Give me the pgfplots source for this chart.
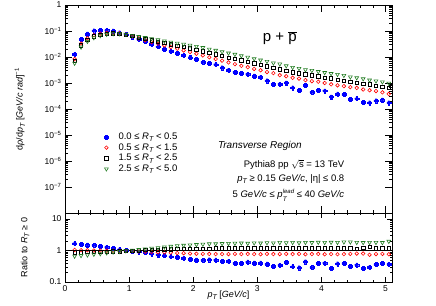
\documentclass[border=0pt]{standalone}
\usepackage{fontspec}
\setmainfont{Liberation Sans}
\usepackage{pgfplots}
\pgfplotsset{compat=1.18}
\usepackage{pgfplotstable}

\definecolor{rblue}{RGB}{0,0,255}
\definecolor{rred}{RGB}{255,0,0}
\definecolor{rgreen}{RGB}{35,125,35}

\pgfdeclareplotmark{fullcross}{%
  \pgfpathmoveto{\pgfqpoint{-0.42\pgfplotmarksize}{\pgfplotmarksize}}%
  \pgfpathlineto{\pgfqpoint{0.42\pgfplotmarksize}{\pgfplotmarksize}}%
  \pgfpathlineto{\pgfqpoint{0.42\pgfplotmarksize}{0.42\pgfplotmarksize}}%
  \pgfpathlineto{\pgfqpoint{\pgfplotmarksize}{0.42\pgfplotmarksize}}%
  \pgfpathlineto{\pgfqpoint{\pgfplotmarksize}{-0.42\pgfplotmarksize}}%
  \pgfpathlineto{\pgfqpoint{0.42\pgfplotmarksize}{-0.42\pgfplotmarksize}}%
  \pgfpathlineto{\pgfqpoint{0.42\pgfplotmarksize}{-\pgfplotmarksize}}%
  \pgfpathlineto{\pgfqpoint{-0.42\pgfplotmarksize}{-\pgfplotmarksize}}%
  \pgfpathlineto{\pgfqpoint{-0.42\pgfplotmarksize}{-0.42\pgfplotmarksize}}%
  \pgfpathlineto{\pgfqpoint{-\pgfplotmarksize}{-0.42\pgfplotmarksize}}%
  \pgfpathlineto{\pgfqpoint{-\pgfplotmarksize}{0.42\pgfplotmarksize}}%
  \pgfpathlineto{\pgfqpoint{-0.42\pgfplotmarksize}{0.42\pgfplotmarksize}}%
  \pgfpathclose
  \pgfusepathqfillstroke}

\newcommand{\RT}{\textit{R}\raisebox{-0.45ex}{\scriptsize\itshape T}}
\newcommand{\pT}{\textit{p}\raisebox{-0.5ex}{\scriptsize\itshape T}}

\pgfplotstableread{
pt b r k g
0.15 0.0130 0.00832 0.00708 0.00575
0.25 0.049 0.0331 0.0282 0.0240
0.35 0.0767 0.0525 0.0457 0.0398
0.45 0.1023 0.0692 0.0617 0.0550
0.55 0.106 0.0794 0.0724 0.0661
0.65 0.106 0.0851 0.0776 0.0741
0.75 0.100 0.0841 0.0804 0.0785
0.85 0.0861 0.0804 0.0785 0.0785
0.95 0.0724 0.0724 0.0724 0.0741
1.05 0.0603 0.0617 0.0646 0.0676
1.15 0.0484 0.0519 0.0569 0.0610
1.25 0.0394 0.0442 0.0507 0.0556
1.35 0.0313 0.0376 0.0442 0.0507
1.45 0.0251 0.0324 0.0394 0.0457
1.55 0.0204 0.0279 0.0351 0.0412
1.65 0.0166 0.0240 0.0309 0.0372
1.75 0.0138 0.0209 0.0275 0.0339
1.85 0.0115 0.0178 0.0245 0.0309
1.95 0.00955 0.0155 0.0219 0.0282
2.05 0.00832 0.0133 0.0188 0.0254
2.15 0.00631 0.0115 0.0166 0.0229
2.25 0.00575 0.00977 0.0145 0.0200
2.35 0.00513 0.00841 0.0126 0.0180
2.45 0.00389 0.00724 0.0110 0.0158
2.55 0.00316 0.00617 0.00955 0.0141
2.65 0.00263 0.00531 0.00832 0.0126
2.75 0.00234 0.00457 0.00741 0.0111
2.85 0.00219 0.00407 0.00646 0.00977
2.95 0.00186 0.00347 0.00575 0.00851
3.05 0.00166 0.00309 0.00501 0.00759
3.15 0.00123 0.00263 0.00437 0.00676
3.25 0.000912 0.00240 0.00389 0.00589
3.35 0.000912 0.00200 0.00339 0.00537
3.45 0.00102 0.00182 0.00295 0.00457
3.55 0.000661 0.00158 0.00257 0.00398
3.65 0.000537 0.00148 0.00240 0.00363
3.75 0.000813 0.00129 0.00214 0.00324
3.85 0.000447 0.00117 0.00195 0.00302
3.95 0.000537 0.00112 0.00178 0.00275
4.05 0.000501 0.00100 0.00162 0.00251
4.15 0.000295 0.000891 0.00151 0.00229
4.25 0.000380 0.000813 0.00135 0.00214
4.35 0.000363 0.000759 0.00123 0.00195
4.45 0.000240 0.000692 0.00112 0.00170
4.55 0.000251 0.000646 0.00102 0.00158
4.65 0.000182 0.000562 0.000912 0.00145
4.75 0.000174 0.000525 0.000891 0.00129
4.85 0.000209 0.000490 0.000776 0.00120
4.95 0.000224 0.000437 0.000708 0.00110
5.05 0.000174 0.000380 0.000661 0.000977
}\upperdata

\pgfplotstableread{
pt b r k g
0.15 1.66 1.04 0.87 0.66
0.25 1.585 1.02 0.88 0.69
0.35 1.51 1.02 0.89 0.72
0.45 1.48 1.0 0.90 0.76
0.55 1.37 1.0 0.91 0.79
0.65 1.27 0.99 0.92 0.84
0.75 1.18 0.99 0.93 0.89
0.85 1.07 0.97 0.95 0.93
0.95 1.01 0.96 0.97 0.98
1.05 0.96 0.95 0.99 1.02
1.15 0.91 0.93 1.01 1.07
1.25 0.86 0.92 1.03 1.12
1.35 0.79 0.90 1.05 1.18
1.45 0.73 0.88 1.07 1.23
1.55 0.69 0.87 1.08 1.29
1.65 0.64 0.85 1.10 1.35
1.75 0.61 0.83 1.11 1.41
1.85 0.57 0.82 1.12 1.46
1.95 0.53 0.80 1.13 1.50
2.05 0.50 0.79 1.14 1.54
2.15 0.49 0.78 1.15 1.58
2.25 0.51 0.78 1.15 1.62
2.35 0.50 0.77 1.16 1.63
2.45 0.46 0.77 1.16 1.66
2.55 0.45 0.77 1.17 1.67
2.65 0.393 0.78 1.17 1.70
2.75 0.393 0.77 1.16 1.72
2.85 0.434 0.78 1.18 1.69
2.95 0.402 0.77 1.17 1.74
3.05 0.402 0.76 1.17 1.72
3.15 0.375 0.78 1.16 1.76
3.25 0.316 0.77 1.18 1.74
3.35 0.342 0.77 1.17 1.79
3.45 0.421 0.78 1.17 1.76
3.55 0.308 0.77 1.16 1.80
3.65 0.284 0.78 1.17 1.75
3.75 0.44 0.76 1.18 1.80
3.85 0.29 0.77 1.17 1.78
3.95 0.39 0.78 1.16 1.82
4.05 0.40 0.76 1.17 1.80
4.15 0.27 0.77 1.18 1.82
4.25 0.38 0.76 1.17 1.80
4.35 0.39 0.77 1.16 1.86
4.45 0.32 0.78 1.17 1.86
4.55 0.35 0.80 1.15 1.80
4.65 0.27 0.80 1.20 1.78
4.75 0.29 0.73 1.30 1.80
4.85 0.36 0.77 1.16 1.80
4.95 0.40 0.78 1.17 1.78
5.05 0.37 0.76 1.18 1.95
}\ratiodata

\pgfplotsset{
  rootaxis/.style={
    scale only axis, width=327pt, xmin=0, xmax=5.1,
    axis line style={line width=0.7pt},
    every tick/.style={black, line width=0.5pt},
    major tick length=7pt, minor tick length=3.5pt,
    tick label style={font=\fontsize{8.5}{10}\selectfont},
    xtick={0,1,2,3,4,5}, minor x tick num=4,
    label style={font=\fontsize{9}{11}\selectfont},
  },
  sblue/.style={only marks, mark=fullcross, mark size=2.0pt, color=rblue, mark options={fill=rblue, line width=0.3pt}},
  sred/.style={only marks, mark=o, mark size=1.8pt, color=rred, mark options={line width=0.6pt}},
  sblack/.style={only marks, mark=square, mark size=1.7pt, color=black, mark options={line width=0.6pt}},
  sgreen/.style={only marks, mark=triangle, mark size=2.2pt, color=rgreen, mark options={rotate=180, line width=0.6pt}},
}

\begin{document}
\begin{tikzpicture}
\useasboundingbox (-65pt,-92pt) rectangle (371pt,213pt);
\begin{axis}[rootaxis, at={(0pt,0pt)}, anchor=south west, height=208pt,
  ymode=log, ymin=1e-8, ymax=1,
  ytick={1e-7,1e-6,1e-5,1e-4,1e-3,1e-2,1e-1,1},
  yticklabels={10\textsuperscript{−7},10\textsuperscript{−6},10\textsuperscript{−5},10\textsuperscript{−4},10\textsuperscript{−3},10\textsuperscript{−2},10\textsuperscript{−1},1},
  xticklabels={},
  ylabel={d\textit{ρ}/d\pT\ [\textit{GeV/c rad}]\textsuperscript{−1}},
  ylabel style={at={(axis description cs:-0.138,0.5)}, anchor=center},
  legend style={at={(0.1,0.405)}, anchor=north west, draw=none, fill=none,
    font=\fontsize{9.5}{11}\selectfont, row sep=-1.5pt},
  legend cell align=left,
  legend image code/.code={\node[inner sep=0pt, minimum width=0.55cm, minimum height=0.1cm, anchor=west, draw=none, fill=none] at (0cm,0cm) {}; \draw[#1, only marks] plot coordinates {(0.2cm,0cm)};},
]
\addplot[sblue] table[x=pt,y=b] {\upperdata};
\addplot[sred] table[x=pt,y=r] {\upperdata};
\addplot[sblack] table[x=pt,y=k] {\upperdata};
\addplot[sgreen] table[x=pt,y=g] {\upperdata};
\legend{0.0 ≤ \RT\ < 0.5, 0.5 ≤ \RT\ < 1.5, 1.5 ≤ \RT\ < 2.5, 2.5 ≤ \RT\ < 5.0}
\node[font=\fontsize{15}{17}\selectfont] at (rel axis cs:0.657,0.841) {p + $\overline{\hbox{p}}$};
\node[font=\fontsize{10}{12}\selectfont\itshape] at (rel axis cs:0.596,0.322) {Transverse Region};
\node[font=\fontsize{9.5}{11}\selectfont, anchor=east, inner sep=0.5pt] at (rel axis cs:0.856,0.232) {Pythia8 pp $\sqrt{\hbox{s}}$ = 13 TeV};
\node[font=\fontsize{9.5}{11}\selectfont, anchor=east, inner sep=0.5pt] at (rel axis cs:0.856,0.164) {\pT\ ≥ 0.15 \textit{GeV/c}, |η| ≤ 0.8};
\node[font=\fontsize{9.5}{11}\selectfont, anchor=east, inner sep=0.5pt] at (rel axis cs:0.856,0.086) {5 \textit{GeV/c} ≤ \textit{p}\rlap{\raisebox{-0.75ex}{\fontsize{6.5}{7}\selectfont\itshape T}}\raisebox{0.85ex}{\fontsize{6}{7}\selectfont\itshape lead} ≤ 40 \textit{GeV/c}};
\end{axis}
\begin{axis}[rootaxis, at={(0pt,-69pt)}, anchor=south west, height=69pt,
  ymode=log, ymin=0.1, ymax=15.5,
  ytick={0.1,1,10}, yticklabels={0.1,1,10},
  xticklabels={0,1,2,3,4,5},
  major tick length=5pt, minor tick length=2.5pt,
  xlabel={\pT\ [\textit{GeV/c}]},
  xlabel style={at={(axis description cs:0.5,-0.19)}, anchor=center},
  ylabel={Ratio to \RT\ ≥ 0},
  ylabel style={at={(axis description cs:-0.122,0.5)}, anchor=center},
]
\addplot[black, line width=0.6pt] coordinates {(0,1) (5.1,1)};
\addplot[sblue] table[x=pt,y=b] {\ratiodata};
\addplot[sred] table[x=pt,y=r] {\ratiodata};
\addplot[sblack] table[x=pt,y=k] {\ratiodata};
\addplot[sgreen] table[x=pt,y=g] {\ratiodata};
\end{axis}
\end{tikzpicture}
\end{document}
